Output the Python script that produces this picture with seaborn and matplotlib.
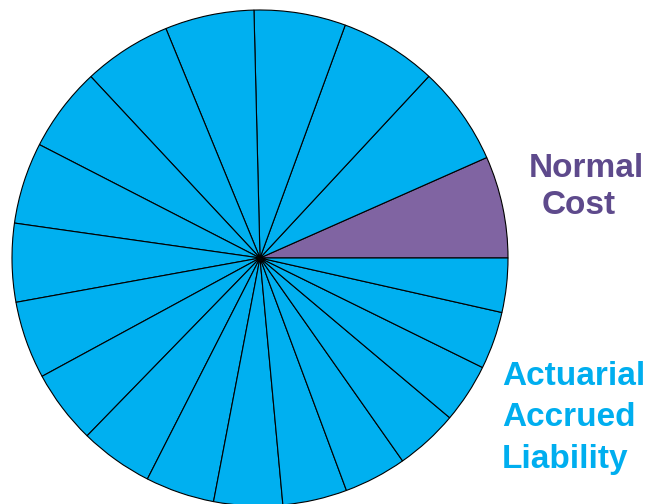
import matplotlib
matplotlib.use("Agg")
import matplotlib.pyplot as plt
import seaborn as sns

sns.set_style("white")
plt.rcParams['font.family'] = ['Liberation Sans', 'DejaVu Sans']

# slice sizes (degrees of the circle), first slice is the normal cost
slice_sizes = [23.9, 23.2, 22.8, 21.5, 20.9, 20.7, 19.8, 19.1, 18.4, 18.2,
               17.3, 17.2, 16.2, 16.1, 15.1, 14.7, 14.8, 13.9, 13.5, 12.7]
slice_kind = ['normal'] + ['accrued'] * (len(slice_sizes) - 1)

purple = '#8064A2'
blue = '#00B0F0'
kind_colors = {'normal': purple, 'accrued': blue}

fig = plt.figure(figsize=(6.54, 5.04), dpi=100)
ax = fig.add_axes([12 / 654, -2 / 504, 496 / 654, 496 / 504])

ax.pie(slice_sizes, colors=[kind_colors[k] for k in slice_kind],
       startangle=0, counterclock=True, radius=1,
       wedgeprops=dict(edgecolor='black', linewidth=0.8))
ax.set_xlim(-1, 1)
ax.set_ylim(-1, 1)
ax.set_aspect('equal')
ax.axis('off')

# labels, one line at a time (pixel positions of the baselines)
label_style = dict(fontsize=24, fontweight='bold', va='baseline', ha='left')
fig.text(529 / 654, 1 - 177 / 504, "Normal", color='#5E4A8C', **label_style)
fig.text(542 / 654, 1 - 214 / 504, "Cost", color='#5E4A8C', **label_style)
fig.text(502 / 654, 1 - 385 / 504, "Actuarial", color='#00AEEF', **label_style)
fig.text(502 / 654, 1 - 426 / 504, "Accrued", color='#00AEEF', **label_style)
fig.text(502 / 654, 1 - 468 / 504, "Liability", color='#00AEEF', **label_style)

fig.savefig("out.png", dpi=100)
